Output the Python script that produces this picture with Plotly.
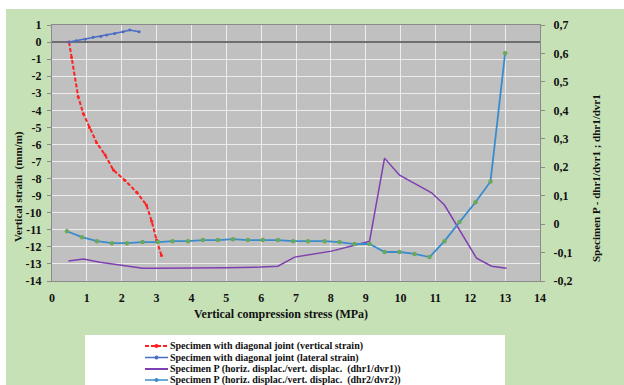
import plotly.graph_objects as go

# ---------------- data ----------------
vert_x = [0.49, 0.56, 0.75, 0.9, 1.07, 1.28, 1.52, 1.76, 2.09, 2.43, 2.71, 2.86, 3.0, 3.14]
vert_y = [0.0, -0.9, -3.2, -4.2, -5.0, -5.9, -6.6, -7.5, -8.1, -8.8, -9.55, -10.5, -11.6, -12.5]

lat_x = [0.49, 0.7, 0.95, 1.18, 1.4, 1.57, 1.8, 2.04, 2.23, 2.5]
lat_y = [0.0, 0.08, 0.17, 0.28, 0.33, 0.41, 0.5, 0.61, 0.71, 0.61]

p1_x = [0.47, 0.9, 1.38, 1.95, 2.6, 3.0, 4.0, 5.0, 6.0, 6.48, 6.96, 7.6, 8.02, 8.68, 9.11,
        9.54, 9.97, 10.49, 10.89, 11.26, 11.63, 12.18, 12.61, 13.04]
p1_y = [-0.13, -0.123, -0.134, -0.144, -0.155, -0.155, -0.155, -0.153, -0.151, -0.148, -0.116,
        -0.104, -0.095, -0.074, -0.06, 0.232, 0.172, 0.137, 0.11, 0.067, -0.01, -0.12, -0.148, -0.155]

p2_x = [0.43, 0.86, 1.29, 1.72, 2.15, 2.6, 3.04, 3.46, 3.9, 4.33, 4.76, 5.19, 5.62, 6.05,
        6.48, 6.92, 7.35, 7.82, 8.25, 8.68, 9.11, 9.54, 9.97, 10.4, 10.83, 11.26, 11.69,
        12.15, 12.58, 13.0]
p2_y = [-0.025, -0.046, -0.06, -0.067, -0.067, -0.063, -0.063, -0.06, -0.06, -0.056, -0.056,
        -0.053, -0.056, -0.056, -0.056, -0.06, -0.06, -0.06, -0.063, -0.07, -0.07, -0.098,
        -0.098, -0.105, -0.116, -0.06, 0.007, 0.077, 0.15, 0.601]

x_ticks = list(range(0, 15))
y_ticks = list(range(-14, 2))
y2_ticks = [-0.2, -0.1, 0.0, 0.1, 0.2, 0.3, 0.4, 0.5, 0.6, 0.7]
y2_text = ["-0,2", "-0,1", "0", "0,1", "0,2", "0,3", "0,4", "0,5", "0,6", "0,7"]

legend_names = [
    "Specimen with diagonal joint (vertical strain)",
    "Specimen with diagonal joint (lateral strain)",
    "Specimen P (horiz. displac./vert. displac.  (dhr1/dvr1))",
    "Specimen P (horiz. displac./vert. displac.  (dhr2/dvr2))",
]

# ---------------- styles ----------------
FONT = "Liberation Serif"
RED = "#ff2020"
BLUE = "#4a6cc4"
PURPLE = "#7e3fb0"
TEAL = "#3a8ccc"
GREEN_M = "#6aa85a"
BG = "#c7e1b6"
PLOT_BG = "#c0c0c0"

W, H = 624, 385
L, R, T, B = 52, 84, 25, 104
PW, PH = W - L - R, H - T - B


def px(xp):
    return (xp - L) / PW


def py(yp):
    return (H - B - yp) / PH


fig = go.Figure()

fig.add_trace(go.Scatter(x=vert_x, y=vert_y, mode="lines+markers", name=legend_names[0],
                         line=dict(color=RED, width=2, dash="4px,2px"),
                         marker=dict(color=RED, size=3)))
fig.add_trace(go.Scatter(x=lat_x, y=lat_y, mode="lines+markers", name=legend_names[1],
                         line=dict(color=BLUE, width=1.5),
                         marker=dict(color=BLUE, size=3)))
fig.add_trace(go.Scatter(x=p1_x, y=p1_y, mode="lines", name=legend_names[2], yaxis="y2",
                         line=dict(color=PURPLE, width=1.5)))
fig.add_trace(go.Scatter(x=p2_x, y=p2_y, mode="lines+markers", name=legend_names[3], yaxis="y2",
                         line=dict(color=TEAL, width=1.8),
                         marker=dict(color=GREEN_M, size=4.5)))

tickfont = dict(family=FONT, size=12, color="#111111", weight="bold")

fig.update_layout(
    width=W, height=H,
    margin=dict(l=L, r=R, t=T, b=B),
    paper_bgcolor=BG,
    plot_bgcolor=PLOT_BG,
    showlegend=False,
    xaxis=dict(range=[0, 14], tickvals=x_ticks, ticktext=[str(v) for v in x_ticks],
               showgrid=True, gridcolor="#ececec", gridwidth=1,
               showline=True, linecolor="#8a8a8a", linewidth=1, mirror=True,
               ticks="", ticklabelstandoff=6, tickfont=tickfont, zeroline=False),
    yaxis=dict(range=[-14, 1], tickvals=y_ticks, ticktext=[str(v) for v in y_ticks],
               showgrid=True, gridcolor="#ececec", gridwidth=1,
               zeroline=True, zerolinecolor="#6e6e6e", zerolinewidth=2,
               showline=True, linecolor="#8a8a8a", linewidth=1, mirror=True,
               ticks="outside", ticklen=4, tickcolor="#8a8a8a",
               ticklabelstandoff=3, tickfont=tickfont),
    yaxis2=dict(range=[-0.2, 0.7], overlaying="y", side="right",
                tickvals=y2_ticks, ticktext=y2_text, showgrid=False, zeroline=False,
                ticks="outside", ticklen=4, tickcolor="#8a8a8a",
                ticklabelstandoff=6, tickfont=tickfont),
)

shapes = []
# white strips at top and left of the image
shapes.append(dict(type="rect", xref="paper", yref="paper", x0=px(0), x1=px(W), y0=py(9), y1=py(0),
                   fillcolor="white", line=dict(width=0), layer="below"))
shapes.append(dict(type="rect", xref="paper", yref="paper", x0=px(0), x1=px(6), y0=py(H), y1=py(0),
                   fillcolor="white", line=dict(width=0), layer="below"))
# legend box
shapes.append(dict(type="rect", xref="paper", yref="paper", x0=px(85), x1=px(505), y0=py(H + 5), y1=py(335),
                   fillcolor="white", line=dict(width=0), layer="below"))

annotations = []
row_y = [346, 357.5, 369, 380]
styles = [(RED, "4px,2px", RED, 2), (BLUE, "solid", BLUE, 1.5), (PURPLE, "solid", None, 2), (TEAL, "solid", TEAL, 1.5)]
for name, yy, (lc, dash, mc, lw) in zip(legend_names, row_y, styles):
    shapes.append(dict(type="line", xref="paper", yref="paper", x0=px(145), x1=px(168), y0=py(yy), y1=py(yy),
                       line=dict(color=lc, width=lw, dash=dash)))
    if mc:
        shapes.append(dict(type="circle", xref="paper", yref="paper", x0=px(154.5), x1=px(158.5),
                           y0=py(yy + 2), y1=py(yy - 2), fillcolor=mc, line=dict(width=0)))
    annotations.append(dict(x=px(168), y=py(yy), xref="paper", yref="paper", text=name, showarrow=False,
                            xanchor="left", yanchor="middle",
                            font=dict(family=FONT, size=10, color="#111111", weight="bold")))

# axis titles
annotations.append(dict(x=px(281), y=py(314), xref="paper", yref="paper", showarrow=False,
                        text="Vertical compression stress (MPa)", xanchor="center", yanchor="middle",
                        font=dict(family=FONT, size=12, color="#111111", weight="bold")))
annotations.append(dict(x=px(18), y=py(187), xref="paper", yref="paper", showarrow=False,
                        text="Vertical strain  (mm/m)", textangle=-90, xanchor="center", yanchor="middle",
                        font=dict(family=FONT, size=11, color="#111111", weight="bold")))
annotations.append(dict(x=px(596), y=py(178), xref="paper", yref="paper", showarrow=False,
                        text="Specimen P - dhr1/dvr1 ; dhr1/dvr1", textangle=-90, xanchor="center", yanchor="middle",
                        font=dict(family=FONT, size=11, color="#111111", weight="bold")))

fig.update_layout(shapes=shapes, annotations=annotations)
fig.write_html("out.html")
